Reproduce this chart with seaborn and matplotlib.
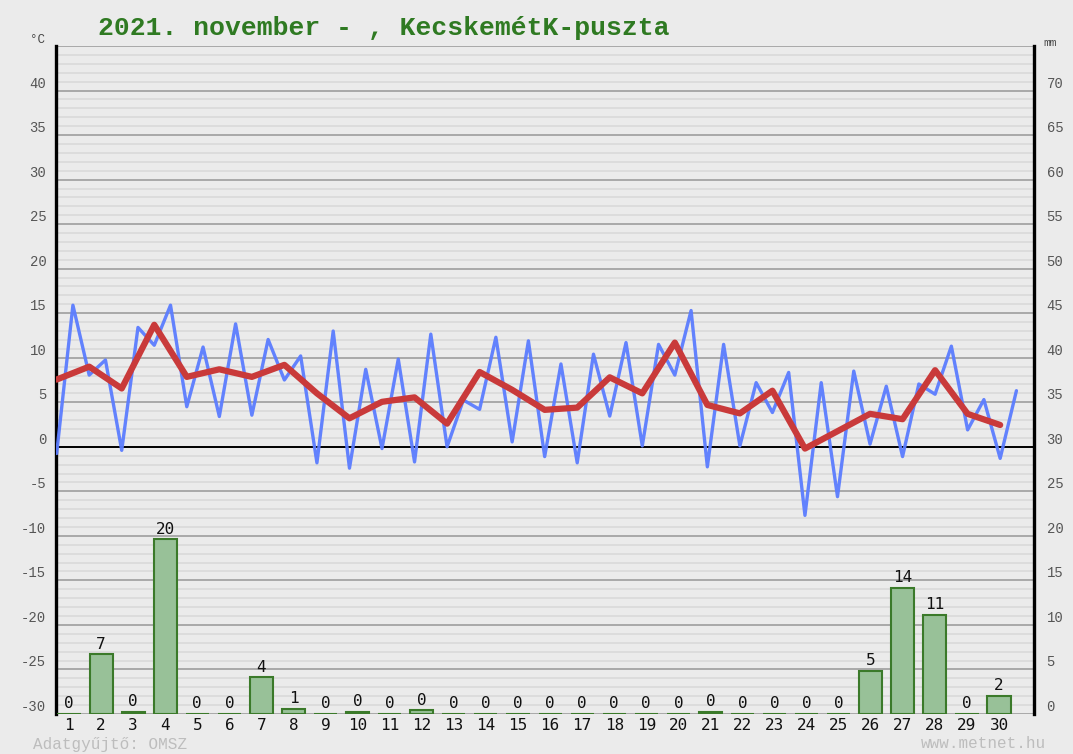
import numpy as np
import pandas as pd
import matplotlib
matplotlib.use("Agg")
import matplotlib.pyplot as plt
import seaborn as sns

sns.set_style("white")
plt.rcParams['font.family'] = ['Liberation Mono', 'DejaVu Sans Mono']

# half-day readings (night low / afternoon high alternating), 1 Nov 00h .. 30 Nov 12h
temp_halfday = [-0.75, 15.9, 8.05, 9.75, -0.4, 13.4, 11.4, 15.9, 4.5, 11.2,
                3.4, 13.8, 3.55, 12.05, 7.5, 10.2, -1.8, 13.0, -2.4, 8.7,
                -0.2, 9.85, -1.7, 12.65, 0.0, 5.25, 4.2, 12.3, 0.55, 11.9,
                -1.1, 9.3, -1.8, 10.4, 3.45, 11.7, 0.1, 11.5, 8.05, 15.3,
                -2.25, 11.5, 0.1, 7.2, 3.85, 8.35, -7.7, 7.2, -5.6, 8.5,
                0.3, 6.8, -1.1, 7.05, 5.9, 11.3, 1.9, 5.3, -1.3, 6.3]
# daily mean temperature
temp_mean = [7.55, 9.0, 6.55, 13.7, 7.85, 8.7, 7.85, 9.2, 6.0, 3.2,
             5.05, 5.55, 2.6, 8.4, 6.4, 4.15, 4.4, 7.8, 6.0, 11.7,
             4.7, 3.75, 6.3, -0.2, 1.75, 3.7, 3.1, 8.6, 3.7, 2.45]
# daily precipitation (mm)
days = list(range(1, 31))
precip_mm = [0, 6.7, 0.2, 19.6, 0, 0, 4.1, 0.6, 0, 0.2,
             0, 0.4, 0, 0, 0, 0, 0, 0, 0, 0,
             0.2, 0, 0, 0, 0, 4.85, 14.2, 11.1, 0, 2.05]

bg = '#ebebeb'
fig = plt.figure(figsize=(10.73, 7.54), dpi=100, facecolor=bg)
rect = [56 / 1073, 1 - 714 / 754, 978 / 1073, 668 / 754]

# temperature axes (background, grid, lines)
ax_t = fig.add_axes(rect)
ax_t.set_facecolor(bg)
t_half = np.arange(len(temp_halfday)) * 0.5
t_day = np.arange(len(temp_mean))
df_half = pd.DataFrame({'t': t_half, 'temp': temp_halfday})
df_mean = pd.DataFrame({'t': t_day, 'temp': temp_mean})

ax_t.set_ylim(-30, 45)
ax_t.set_xlim(-0.02, 30.04)
ax_t.set_yticks(range(-30, 46, 5))
ax_t.set_yticks(range(-30, 46), minor=True)
ax_t.grid(which='minor', axis='y', color='#dcdcdc', lw=1.4)
ax_t.grid(which='major', axis='y', color='#a3a3a3', lw=1.3)
ax_t.axhline(0, color='black', lw=1.4, zorder=1.5)
ax_t.set_axisbelow(True)

sns.lineplot(data=df_half, x='t', y='temp', ax=ax_t, color='#5b7cff',
             lw=2.4, alpha=0.95, zorder=3)
sns.lineplot(data=df_mean, x='t', y='temp', ax=ax_t, color='#c93a3a',
             lw=4.5, zorder=4)

ax_t.set_xticks([])
ax_t.set_xlabel('')
ax_t.set_ylabel('')
ax_t.set_yticklabels(['' if v == 45 else str(v) for v in range(-30, 46, 5)])
ax_t.tick_params(axis='y', which='both', length=0, pad=7, labelsize=10,
                 labelcolor='#555555')
for lab in ax_t.get_yticklabels():
    lab.set_verticalalignment('bottom')
for s in ['top', 'bottom']:
    ax_t.spines[s].set_visible(False)
for s in ['left', 'right']:
    ax_t.spines[s].set_color('black')
    ax_t.spines[s].set_linewidth(2.4)

# precipitation axes (bars, day labels, mm scale)
ax_p = fig.add_axes(rect, facecolor='none')
df_p = pd.DataFrame({'day': days, 'mm': precip_mm})
sns.barplot(data=df_p, x='day', y='mm', ax=ax_p, color='#98c198',
            edgecolor='#3b7a2a', linewidth=1.5, width=0.72, saturation=1,
            zorder=3)
ax_p.bar_label(ax_p.containers[0], labels=[f"{v:.0f}" for v in precip_mm],
               padding=2, fontsize=11.5, family='DejaVu Sans Mono',
               color='#111111')
ax_p.set_xlim(-0.405, 30.09)
ax_p.set_ylim(0, 75)
ax_p.set_yticks(range(0, 71, 5))
ax_p.yaxis.tick_right()
ax_p.tick_params(axis='y', length=0, pad=9, labelsize=10, labelcolor='#555555')
for lab in ax_p.get_yticklabels():
    lab.set_verticalalignment('bottom')
ax_p.tick_params(axis='x', length=0, pad=3, labelsize=11.5, labelcolor='#111111')
for lab in ax_p.get_xticklabels():
    lab.set_family('DejaVu Sans Mono')
ax_p.set_xlabel('')
ax_p.set_ylabel('')
for s in ax_p.spines.values():
    s.set_visible(False)

fig.text(98 / 1073, 1 - 28 / 754, '2021. november - , KecskemétK-puszta',
         color='#2f7a22', fontsize=19, fontweight='bold', va='center', ha='left')
fig.text(30 / 1073, 1 - 40 / 754, '°C', color='#444444', fontsize=9, va='center')
fig.text(1043 / 1073, 1 - 43 / 754, 'mm', color='#444444', fontsize=8, va='center')
fig.text(33 / 1073, 1 - 744 / 754, 'Adatgyűjtő: OMSZ', color='#bdbdbd',
         fontsize=11.5, va='center')
fig.text(1046 / 1073, 1 - 744 / 754, 'www.metnet.hu', color='#bdbdbd',
         fontsize=11.5, va='center', ha='right')

fig.savefig('out.png', dpi=100, facecolor=bg)
